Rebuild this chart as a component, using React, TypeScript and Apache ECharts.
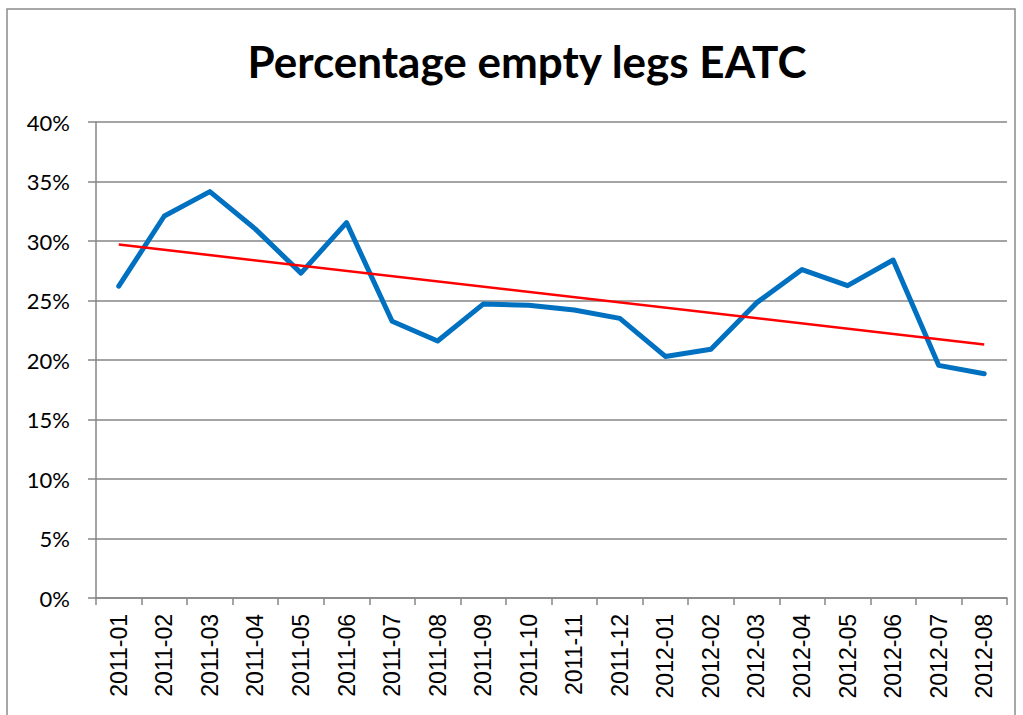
import React, { useEffect, useRef } from "react";
import * as echarts from "echarts";

const categories = [
  "2011-01", "2011-02", "2011-03", "2011-04", "2011-05", "2011-06", "2011-07",
  "2011-08", "2011-09", "2011-10", "2011-11", "2011-12", "2012-01", "2012-02",
  "2012-03", "2012-04", "2012-05", "2012-06", "2012-07", "2012-08",
];
const emptyLegs = [
  26.2, 32.1, 34.15, 31.0, 27.3, 31.55, 23.25, 21.6, 24.7, 24.6,
  24.2, 23.5, 20.3, 20.9, 24.8, 27.6, 26.25, 28.4, 19.55, 18.85,
];
const trendStart = 29.7;
const trendEnd = 21.3;
const titleText = "Percentage empty legs EATC";

export default function App() {
  const ref = useRef<HTMLDivElement>(null);
  useEffect(() => {
    if (!ref.current) return;
    const chart = echarts.init(ref.current, null, { renderer: "svg" });
    const gray = "#868686";
    chart.setOption({
      animation: false,
      backgroundColor: "#ffffff",
      title: {
        text: titleText,
        left: 522,
        top: 34,
        textAlign: "center",
        textStyle: { fontFamily: "Lato", fontWeight: "bold", fontSize: 44, color: "#000" },
      },
      graphic: [
        {
          type: "rect",
          shape: { x: 7, y: 9, width: 1008, height: 740 },
          style: { fill: "none", stroke: "#8c8c8c", lineWidth: 1.5 },
          silent: true,
        },
      ],
      grid: { left: 96, right: 16, top: 122, bottom: 117, containLabel: false },
      xAxis: {
        type: "category",
        data: categories,
        boundaryGap: true,
        axisLine: { lineStyle: { color: gray, width: 1.5 } },
        axisTick: { show: true, length: 7, lineStyle: { color: gray, width: 1.5 } },
        axisLabel: {
          rotate: 90,
          margin: 16,
          fontFamily: "Liberation Sans",
          fontSize: 23,
          color: "#000",
          interval: 0,
        },
      },
      yAxis: {
        type: "value",
        min: 0,
        max: 40,
        interval: 5,
        axisLine: { show: true, lineStyle: { color: gray, width: 1.5 } },
        axisTick: { show: true, length: 8, lineStyle: { color: gray, width: 1.5 } },
        axisLabel: {
          formatter: "{value}%",
          margin: 26,
          fontFamily: "Lato",
          fontSize: 22,
          color: "#000",
        },
        splitLine: { lineStyle: { color: gray, width: 1.5 } },
      },
      series: [
        {
          type: "line",
          data: emptyLegs,
          symbol: "none",
          lineStyle: { color: "#0070C0", width: 5, cap: "round", join: "round" },
          z: 3,
        },
        {
          type: "line",
          data: [
            [categories[0], trendStart],
            [categories[categories.length - 1], trendEnd],
          ],
          symbol: "none",
          lineStyle: { color: "#FF0000", width: 2.5 },
          z: 4,
        },
      ],
    });
    return () => chart.dispose();
  }, []);
  return (
    <div
      ref={ref}
      style={{ position: "fixed", left: 0, top: 0, width: 1023, height: 715 }}
    />
  );
}
